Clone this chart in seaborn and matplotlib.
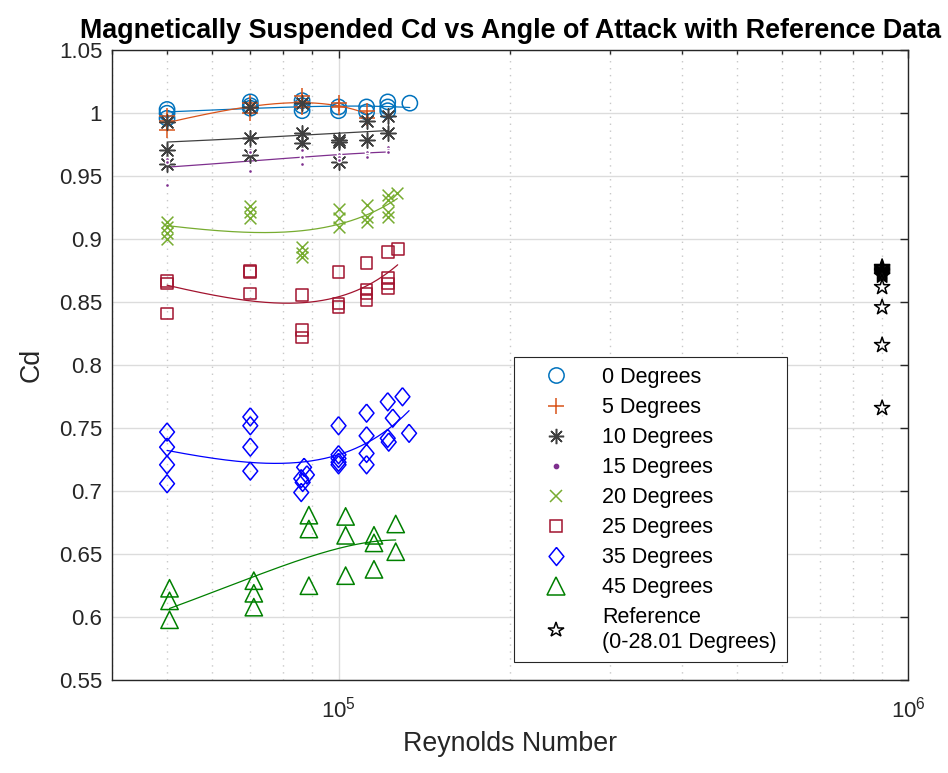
import numpy as np
import pandas as pd
import matplotlib
matplotlib.use("Agg")
import matplotlib.pyplot as plt
from matplotlib.lines import Line2D
from matplotlib.ticker import FixedLocator, LogLocator, LogFormatterSciNotation, NullFormatter
import seaborn as sns

# ---- measured drag coefficients (Reynolds number, Cd) per angle of attack ----
re_0 = [5.0e4, 5.0e4, 5.0e4, 7.0e4, 7.0e4, 7.0e4, 8.63e4, 8.63e4, 8.63e4,
        1.0e5, 1.0e5, 1.12e5, 1.12e5, 1.22e5, 1.22e5, 1.22e5, 1.334e5]
cd_0 = [1.003, 1.000, 0.996, 1.009, 1.006, 1.004, 1.010, 1.006, 1.002,
        1.005, 1.002, 1.005, 1.001, 1.009, 1.005, 1.002, 1.008]

re_5 = [5.0e4, 5.0e4, 5.0e4, 7.0e4, 7.0e4, 7.0e4, 8.63e4, 8.63e4, 8.63e4,
        1.0e5, 1.0e5, 1.12e5, 1.12e5]
cd_5 = [0.998, 0.994, 0.987, 1.008, 1.004, 1.000, 1.014, 1.009, 1.005,
        1.008, 1.005, 1.002, 0.996]

re_10 = [5.0e4, 5.0e4, 5.0e4, 7.0e4, 7.0e4, 7.0e4, 8.63e4, 8.63e4, 8.63e4,
         1.0e5, 1.0e5, 1.0e5, 1.12e5, 1.12e5, 1.22e5, 1.22e5]
cd_10 = [0.993, 0.971, 0.960, 1.005, 0.980, 0.967, 1.008, 0.984, 0.976,
         0.979, 0.977, 0.961, 0.994, 0.979, 0.998, 0.984]

re_15 = [5.0e4, 5.0e4, 5.0e4, 7.0e4, 7.0e4, 7.0e4, 8.63e4, 8.63e4, 8.63e4,
         1.0e5, 1.0e5, 1.0e5, 1.12e5, 1.12e5, 1.12e5, 1.22e5, 1.22e5, 1.22e5]
cd_15 = [0.964, 0.961, 0.943, 0.971, 0.969, 0.954, 0.971, 0.965, 0.960,
         0.968, 0.965, 0.963, 0.969, 0.967, 0.965, 0.973, 0.971, 0.969]

re_20 = [5.0e4, 5.0e4, 5.0e4, 5.0e4, 7.0e4, 7.0e4, 7.0e4, 8.63e4, 8.63e4, 8.63e4,
         1.0e5, 1.0e5, 1.0e5, 1.12e5, 1.12e5, 1.12e5,
         1.22e5, 1.22e5, 1.22e5, 1.22e5, 1.268e5]
cd_20 = [0.914, 0.910, 0.905, 0.900, 0.926, 0.922, 0.917, 0.894, 0.889, 0.886,
         0.924, 0.917, 0.910, 0.927, 0.918, 0.914,
         0.935, 0.931, 0.922, 0.918, 0.937]

re_25 = [5.0e4, 5.0e4, 5.0e4, 7.0e4, 7.0e4, 7.0e4, 8.63e4, 8.63e4, 8.63e4,
         1.0e5, 1.0e5, 1.0e5, 1.12e5, 1.12e5, 1.12e5, 1.12e5,
         1.22e5, 1.22e5, 1.22e5, 1.22e5, 1.27e5]
cd_25 = [0.867, 0.865, 0.841, 0.875, 0.874, 0.857, 0.856, 0.828, 0.822,
         0.874, 0.849, 0.846, 0.881, 0.860, 0.857, 0.852,
         0.890, 0.869, 0.865, 0.861, 0.892]

re_35 = [5.0e4, 5.0e4, 5.0e4, 5.0e4, 7.0e4, 7.0e4, 7.0e4, 7.0e4,
         8.7e4, 8.8e4, 8.6e4, 8.65e4, 8.6e4,
         1.0e5, 1.0e5, 1.0e5, 1.0e5, 1.0e5,
         1.12e5, 1.12e5, 1.12e5, 1.12e5,
         1.22e5, 1.295e5, 1.245e5, 1.22e5, 1.225e5, 1.33e5]
cd_35 = [0.747, 0.735, 0.721, 0.706, 0.759, 0.752, 0.735, 0.716,
         0.719, 0.713, 0.710, 0.707, 0.699,
         0.752, 0.729, 0.726, 0.723, 0.721,
         0.762, 0.744, 0.730, 0.721,
         0.771, 0.775, 0.758, 0.742, 0.739, 0.746]

re_45 = [5.05e4, 5.05e4, 5.05e4, 7.1e4, 7.1e4, 7.1e4, 8.87e4, 8.87e4, 8.87e4,
         1.029e5, 1.029e5, 1.029e5, 1.154e5, 1.154e5, 1.154e5, 1.26e5, 1.26e5]
cd_45 = [0.623, 0.613, 0.598, 0.629, 0.619, 0.608, 0.681, 0.670, 0.625,
         0.680, 0.665, 0.633, 0.665, 0.659, 0.638, 0.674, 0.652]

# published reference values (0-28.01 degrees)
re_ref = [9.0e5] * 12
cd_ref = [0.878, 0.877, 0.876, 0.875, 0.874, 0.873, 0.872, 0.871,
          0.862, 0.846, 0.816, 0.766]

labels = ["0 Degrees", "5 Degrees", "10 Degrees", "15 Degrees", "20 Degrees",
          "25 Degrees", "35 Degrees", "45 Degrees"]
y_ticks = [0.55, 0.6, 0.65, 0.7, 0.75, 0.8, 0.85, 0.9, 0.95, 1.0, 1.05]

# ---- styling ----
sns.set_theme(style="white")
plt.rcParams["font.family"] = ["Liberation Sans", "DejaVu Sans"]
plt.rcParams["mathtext.default"] = "regular"

ink = "#262626"
diamond = [(0, 1), (0.82, 0), (0, -1), (-0.82, 0), (0, 1)]
asterisk = (8, 2, 0)

# (Re, Cd, colour, marker, size in pt, outline-only?)
series = [
    (re_0, cd_0, "#0072BD", "o", 11, True),
    (re_5, cd_5, "#D95319", "+", 11, False),
    (re_10, cd_10, "#404040", asterisk, 11, False),
    (re_15, cd_15, "#7E2F8E", ".", 6, False),
    (re_20, cd_20, "#77AC30", "x", 8.5, False),
    (re_25, cd_25, "#A2142F", "s", 8.4, True),
    (re_35, cd_35, "#0000FF", diamond, 13, True),
    (re_45, cd_45, "#008000", "^", 12.5, True),
]

fig = plt.figure(figsize=(9.48, 7.73), dpi=100)
ax = fig.add_axes([0.118, 0.120, 0.840, 0.815])
ax.set_xscale("log")

handles = []
for (re, cd, col, mk, ms, outline), lab in zip(series, labels):
    re = np.asarray(re)
    cd = np.asarray(cd)
    if outline:
        sns.scatterplot(x=re, y=cd, ax=ax, marker=mk, s=ms ** 2,
                        facecolor="none", edgecolor=col, linewidth=1.1, zorder=3)
    else:
        sns.scatterplot(x=re, y=cd, ax=ax, marker=mk, s=ms ** 2,
                        color=col, linewidth=1.1, zorder=3)
    # second-order least-squares trend across the measured Reynolds range
    coef = np.polyfit(re, cd, 2)
    re_fit = np.linspace(re.min(), re.max(), 200)
    sns.lineplot(x=re_fit, y=np.polyval(coef, re_fit), ax=ax, color=col,
                 linewidth=0.9, zorder=2)
    handles.append(Line2D([], [], linestyle="none", marker=mk, markersize=ms,
                          markerfacecolor="none" if outline else col,
                          markeredgecolor=col, markeredgewidth=1.1, label=lab))

sns.scatterplot(x=re_ref, y=cd_ref, ax=ax, marker="*", s=11.5 ** 2,
                facecolor="none", edgecolor="black", linewidth=1.1, zorder=3)
handles.append(Line2D([], [], linestyle="none", marker="*", markersize=11.5,
                      markerfacecolor="none", markeredgecolor="black",
                      markeredgewidth=1.1, label="Reference\n(0-28.01 Degrees)"))

# ---- axes ----
ax.set_xlim(4e4, 1e6)
ax.set_ylim(0.55, 1.05)
ax.yaxis.set_major_locator(FixedLocator(y_ticks))
ax.set_yticklabels([f"{v:g}" for v in y_ticks])
ax.xaxis.set_major_locator(LogLocator(base=10))
ax.xaxis.set_major_formatter(LogFormatterSciNotation(base=10))
ax.xaxis.set_minor_locator(LogLocator(base=10, subs=np.arange(2, 10)))
ax.xaxis.set_minor_formatter(NullFormatter())

ax.grid(True, which="major", color="#dcdcdc", linewidth=1.0, linestyle="-")
ax.grid(True, which="minor", axis="x", color="#c8c8c8", linewidth=1.0,
        linestyle=(0, (1, 4)))
ax.set_axisbelow(True)

for sp in ax.spines.values():
    sp.set_color(ink)
    sp.set_linewidth(1.0)
    sp.set_visible(True)
ax.tick_params(which="both", direction="in", top=True, right=True,
               color=ink, labelcolor=ink, labelsize=16, width=1.0)
ax.tick_params(which="major", length=6)
ax.tick_params(which="minor", length=3)
ax.tick_params(axis="x", which="major", pad=12)
ax.tick_params(axis="y", which="major", pad=7)

ax.set_xlabel("Reynolds Number", fontsize=19.3, color=ink, labelpad=6)
ax.set_ylabel("Cd", fontsize=19.3, color=ink, labelpad=10)
ax.set_title("Magnetically Suspended Cd vs Angle of Attack with Reference Data",
             fontsize=19.4, fontweight="bold", color="black", pad=9)

leg = ax.legend(handles=handles, loc="lower left", bbox_to_anchor=(0.505, 0.0286),
                borderaxespad=0, frameon=True, fancybox=False, fontsize=15.5,
                handlelength=3.0, handletextpad=0.65, labelspacing=0.42,
                borderpad=0.45)
leg.get_frame().set_edgecolor(ink)
leg.get_frame().set_linewidth(0.8)
leg.get_frame().set_facecolor("white")
leg.get_frame().set_alpha(1.0)
for t in leg.get_texts():
    t.set_color("black")

fig.savefig("out.png", dpi=100)
